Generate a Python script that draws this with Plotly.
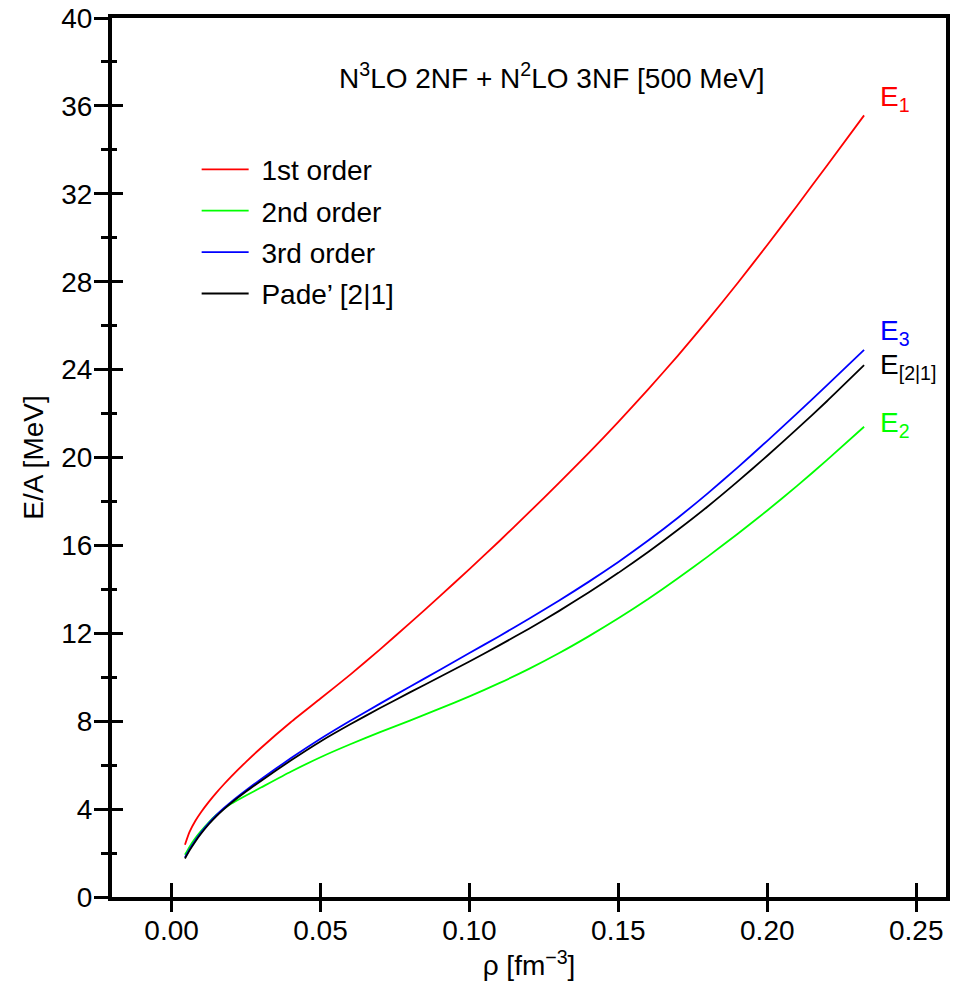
import plotly.graph_objects as go

rho = [0.0045, 0.006, 0.008, 0.01, 0.0125, 0.015, 0.0175, 0.02, 0.025, 0.03,
       0.04, 0.05, 0.06, 0.07, 0.08, 0.09, 0.10, 0.11, 0.12, 0.13, 0.14, 0.15,
       0.16, 0.17, 0.18, 0.19, 0.20, 0.21, 0.22, 0.2325]

e1 = [2.38, 2.95, 3.47, 3.88, 4.33, 4.74, 5.12, 5.48, 6.15, 6.78,
      7.95, 9.03, 10.12, 11.27, 12.46, 13.68, 14.92, 16.19, 17.50, 18.83, 20.20, 21.62,
      23.10, 24.64, 26.25, 27.93, 29.67, 31.46, 33.28, 35.57]

e2 = [1.92, 2.28, 2.68, 3.02, 3.40, 3.73, 4.01, 4.24, 4.62, 4.98,
      5.70, 6.36, 6.95, 7.50, 8.03, 8.57, 9.13, 9.73, 10.38, 11.09, 11.86, 12.68,
      13.56, 14.50, 15.49, 16.52, 17.59, 18.71, 19.88, 21.40]

e3 = [1.80, 2.16, 2.58, 2.95, 3.36, 3.72, 4.04, 4.33, 4.86, 5.36,
      6.31, 7.20, 8.02, 8.80, 9.57, 10.33, 11.10, 11.87, 12.66, 13.48, 14.34, 15.25,
      16.22, 17.26, 18.37, 19.54, 20.76, 22.01, 23.28, 24.90]

e21 = [1.75, 2.11, 2.53, 2.90, 3.31, 3.67, 3.99, 4.28, 4.80, 5.28,
       6.21, 7.08, 7.86, 8.60, 9.31, 10.01, 10.72, 11.45, 12.21, 13.01, 13.86, 14.75,
       15.70, 16.71, 17.77, 18.90, 20.08, 21.30, 22.56, 24.20]

series_names = ["1st order", "2nd order", "3rd order", "Pade\u2019 [2|1]"]
series_colors = ["#ff0000", "#00ff00", "#0000ff", "#000000"]
end_labels = ["E<sub>1</sub>", "E<sub>2</sub>", "E<sub>3</sub>", "E<sub>[2|1]</sub>"]
label_y = [36.35, 21.5, 25.68, 24.14]

x_ticks = [0.00, 0.05, 0.10, 0.15, 0.20, 0.25]
y_ticks = list(range(0, 41, 4))

FONT = "Liberation Sans, Arial, Helvetica, sans-serif"
FS = 28

fig = go.Figure()
for name, color, vals in zip(series_names, series_colors, [e1, e2, e3, e21]):
    fig.add_trace(go.Scatter(x=rho, y=vals, mode="lines", name="\u00a0" + name, legendgroup=name,
                             line=dict(color=color, width=1.8, shape="spline", smoothing=0.5)))

# empty trace on overlay axes (for inward ticks)
fig.add_trace(go.Scatter(x=[], y=[], xaxis="x2", yaxis="y2", showlegend=False, hoverinfo="skip"))

for lab, color, ly in zip(end_labels, series_colors, label_y):
    fig.add_annotation(x=0.2372, y=ly, xref="x", yref="y", text=lab, showarrow=False,
                       xanchor="left", yanchor="middle",
                       font=dict(family=FONT, size=FS, color=color))

fig.add_annotation(x=0.528, y=0.934, xref="paper", yref="paper",
                   text="N<sup>3</sup>LO 2NF + N<sup>2</sup>LO 3NF [500 MeV]",
                   showarrow=False, xanchor="center", yanchor="middle",
                   font=dict(family=FONT, size=FS, color="black"))

axis_common = dict(showgrid=False, zeroline=False, linecolor="black", linewidth=4,
                   tickcolor="black", tickwidth=3, ticklabeloverflow="allow",
                   tickfont=dict(family=FONT, size=FS, color="black"))

fig.update_layout(
    width=953, height=998,
    margin=dict(l=112, r=3, t=12, b=101),
    paper_bgcolor="white", plot_bgcolor="white",
    showlegend=True,
    legend=dict(x=0.1015, y=0.856, xanchor="left", yanchor="top",
                font=dict(family=FONT, size=FS, color="black"),
                bgcolor="rgba(0,0,0,0)", tracegroupgap=2, itemwidth=47),
    xaxis=dict(range=[-0.02, 0.26], tickvals=x_ticks, ticktext=[f"{v:.2f}" for v in x_ticks],
               ticks="outside", ticklen=11, showline=True, mirror=True, ticklabelstandoff=-6,
               title=dict(text="\u03c1 [fm<sup>\u22123</sup>]", standoff=6,
                          font=dict(family=FONT, size=FS, color="black")),
               **axis_common),
    yaxis=dict(range=[0, 40], tickvals=y_ticks, ticks="outside", ticklen=14, showline=True, mirror=True,
               ticklabelstandoff=-4,
               minor=dict(dtick=2, ticks="outside", ticklen=7, tickwidth=3, tickcolor="black"),
               title=dict(text="E/A [MeV]", standoff=10,
                          font=dict(family=FONT, size=FS, color="black")),
               **axis_common),
    xaxis2=dict(range=[-0.02, 0.26], tickvals=x_ticks, ticks="inside", ticklen=14,
                showticklabels=False, overlaying="x", anchor="y2", side="bottom",
                showgrid=False, zeroline=False, showline=False, tickcolor="black", tickwidth=3),
    yaxis2=dict(range=[0, 40], tickvals=y_ticks, ticks="inside", ticklen=11,
                showticklabels=False, overlaying="y", anchor="x2", side="left",
                minor=dict(dtick=2, ticks="inside", ticklen=5, tickwidth=3, tickcolor="black"),
                showgrid=False, zeroline=False, showline=False, tickcolor="black", tickwidth=3),
)

fig.write_html("out.html", config={"displayModeBar": False},
               post_script="document.body.style.margin='0';document.body.style.overflow='hidden';")
